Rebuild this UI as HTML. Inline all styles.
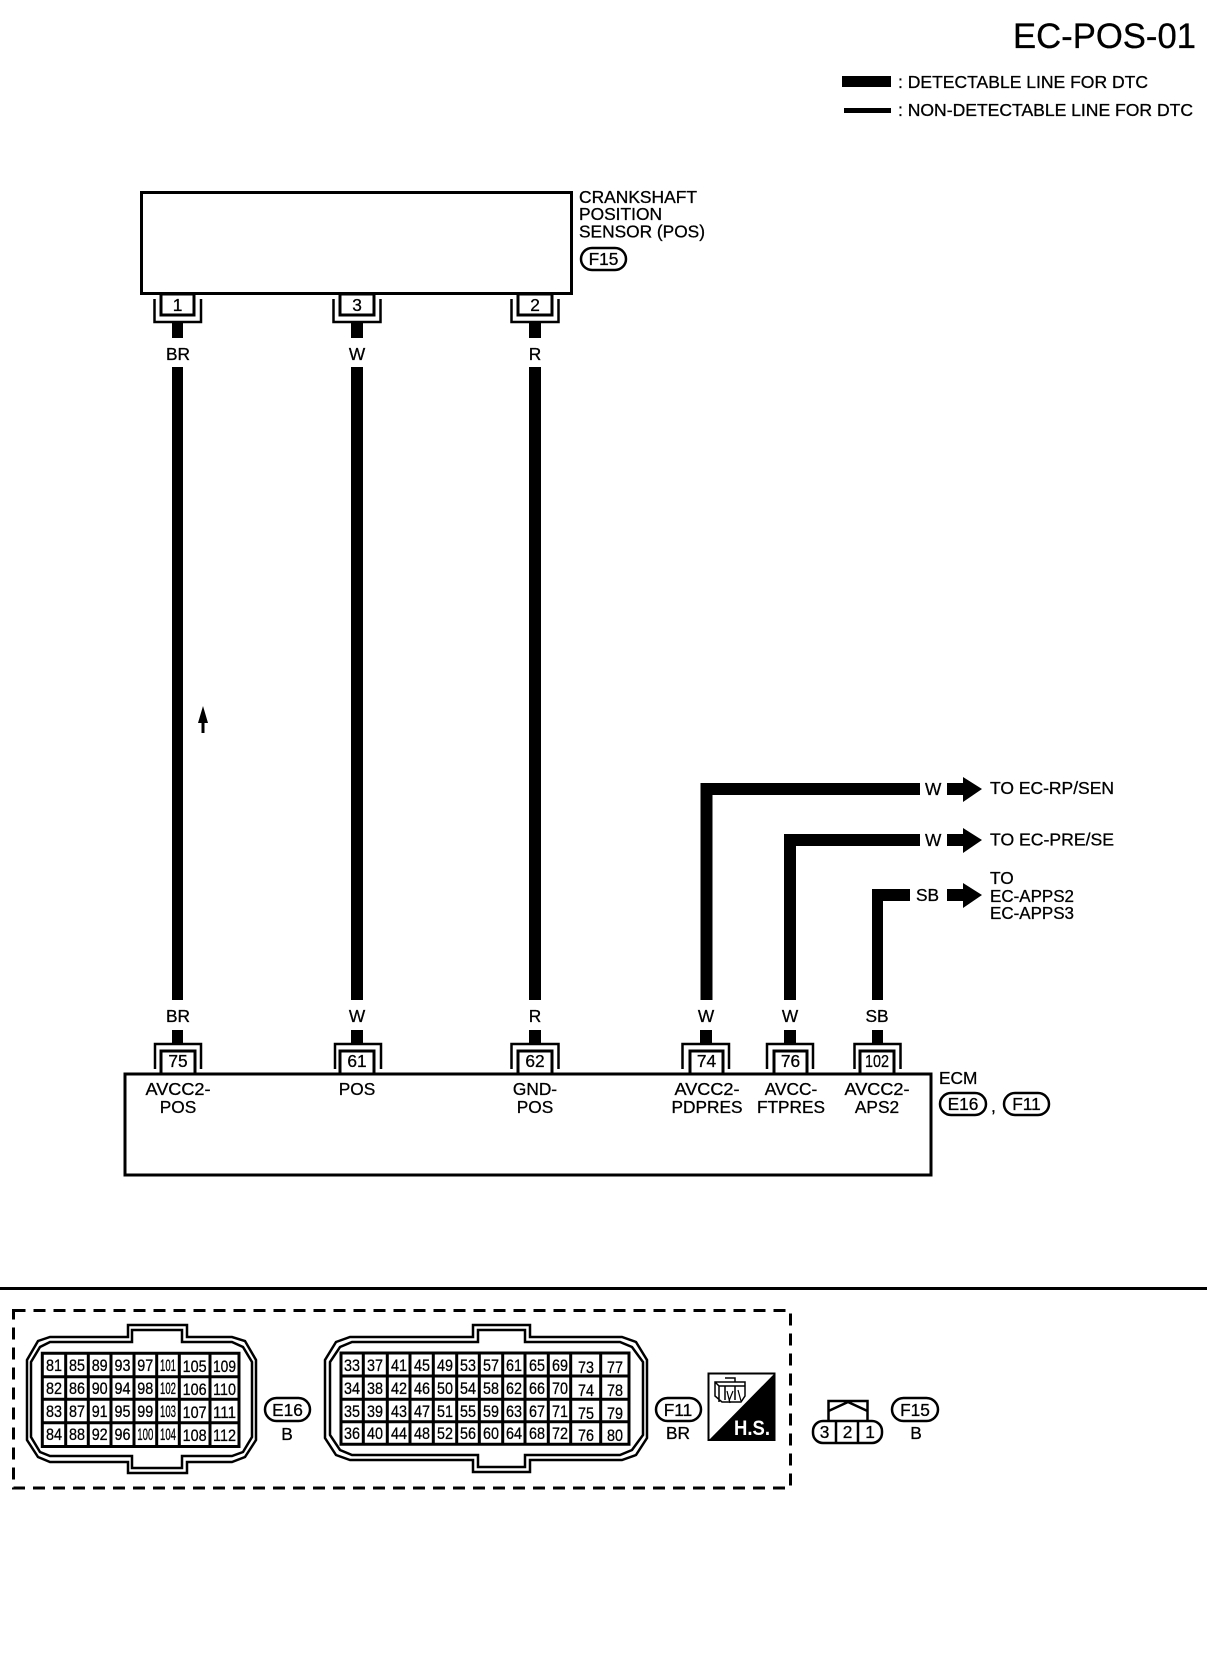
<!DOCTYPE html>
<html><head><meta charset="utf-8"><style>
html,body{margin:0;padding:0;background:#fff}
svg{display:block}
text{font-family:"Liberation Sans",sans-serif;fill:#000;font-size:17.3px;stroke:#000;stroke-width:.3px}
.m{text-anchor:middle}
.c{font-size:17px;text-anchor:middle}
.s{fill:none;stroke:#000;stroke-width:2.5}
.b{fill:#fff;stroke:#000;stroke-width:3}
</style></head><body>
<svg width="1216" height="1660" viewBox="0 0 1216 1660" xmlns="http://www.w3.org/2000/svg">
<rect width="1216" height="1660" fill="#fff"/>
<text x="1013" y="48" style="font-size:35px" textLength="183" lengthAdjust="spacingAndGlyphs">EC-POS-01</text>
<rect x="842" y="76" width="49" height="11"/>
<rect x="844" y="108" width="47" height="5"/>
<text x="898" y="88" textLength="250" lengthAdjust="spacingAndGlyphs">: DETECTABLE LINE FOR DTC</text>
<text x="898" y="116" textLength="295" lengthAdjust="spacingAndGlyphs">: NON-DETECTABLE LINE FOR DTC</text>

<!-- sensor -->
<rect class="b" x="141.500" y="192.500" width="430" height="101"/>
<text x="579" y="203" textLength="118" lengthAdjust="spacingAndGlyphs">CRANKSHAFT</text>
<text x="579" y="220" textLength="83" lengthAdjust="spacingAndGlyphs">POSITION</text>
<text x="579" y="237.500" textLength="126" lengthAdjust="spacingAndGlyphs">SENSOR (POS)</text>
<rect class="s" x="581" y="248" width="45" height="22" rx="11"/>
<text class="m" x="603.500" y="265">F15</text>

<g>
<rect x="172" y="322" width="11" height="16"/><rect x="172" y="367" width="11" height="633"/>
<rect x="351" y="322" width="12" height="16"/><rect x="351" y="367" width="12" height="633"/>
<rect x="529" y="322" width="12" height="16"/><rect x="529" y="367" width="12" height="633"/>
</g>
<path class="s" d="M154.500 299V322H201V299M333.500 299V322H380.500V299M511.500 299V322H558.500V299"/>
<rect class="b" x="161" y="294" width="33" height="21"/><rect class="b" x="340" y="294" width="34" height="21"/><rect class="b" x="518" y="294" width="34" height="21"/>
<text class="m" x="177.500" y="311">1</text><text class="m" x="357" y="311">3</text><text class="m" x="535" y="311">2</text>
<text class="m" x="178" y="360">BR</text><text class="m" x="357" y="360">W</text><text class="m" x="535" y="360">R</text>

<!-- small arrow -->
<path d="M203 706L208 723H204.500V733H201.500V723H198Z"/>

<!-- branch wires -->
<path d="M700.500 1000V783H920V795H712.500V1000ZM784 1000V834H920V846H796V1000ZM872 1000V889H910V901H883V1000Z"/>
<text x="925" y="795">W</text><text x="925" y="846">W</text><text x="916" y="901">SB</text>
<path d="M947 783H963V777L982 789L963 802V795H947Z"/>
<path d="M947 834H963V828L982 840L963 853V846H947Z"/>
<path d="M947 889H963V883L982 895L963 908V901H947Z"/>
<text x="990" y="794" textLength="124" lengthAdjust="spacingAndGlyphs">TO EC-RP/SEN</text>
<text x="990" y="845.500" textLength="124" lengthAdjust="spacingAndGlyphs">TO EC-PRE/SE</text>
<text x="990" y="884">TO</text><text x="990" y="902" textLength="84" lengthAdjust="spacingAndGlyphs">EC-APPS2</text><text x="990" y="919" textLength="84" lengthAdjust="spacingAndGlyphs">EC-APPS3</text>

<!-- ECM lower stubs -->
<rect x="172" y="1030" width="11" height="14"/><rect x="351" y="1030" width="12" height="14"/><rect x="529" y="1030" width="12" height="14"/>
<rect x="700" y="1030" width="12" height="14"/><rect x="784" y="1030" width="12" height="14"/><rect x="872" y="1030" width="11" height="14"/>
<text class="m" x="178" y="1022">BR</text><text class="m" x="357" y="1022">W</text><text class="m" x="535" y="1022">R</text>
<text class="m" x="706" y="1022">W</text><text class="m" x="790" y="1022">W</text><text class="m" x="877" y="1022">SB</text>
<path class="s" d="M155 1069V1044H201V1069M335 1069V1044H381V1069M511.500 1069V1044H558.500V1069M682.500 1069V1044H729V1069M767 1069V1044H813V1069M854.500 1069V1044H900.500V1069"/>
<rect class="b" x="125" y="1074" width="806" height="101"/>
<rect class="b" x="161" y="1051" width="34" height="23"/><rect class="b" x="340" y="1051" width="34" height="23"/><rect class="b" x="518" y="1051" width="34" height="23"/>
<rect class="b" x="690" y="1051" width="33" height="23"/><rect class="b" x="774" y="1051" width="33" height="23"/><rect class="b" x="860" y="1051" width="34" height="23"/>
<text class="m" x="178" y="1067">75</text><text class="m" x="357" y="1067">61</text><text class="m" x="535" y="1067">62</text>
<text class="m" x="706.500" y="1067">74</text><text class="m" x="790.500" y="1067">76</text><text class="m" x="877" y="1067" textLength="24" lengthAdjust="spacingAndGlyphs">102</text>
<text class="m" x="178" y="1095" textLength="65" lengthAdjust="spacingAndGlyphs">AVCC2-</text><text class="m" x="178" y="1113">POS</text>
<text class="m" x="357" y="1095">POS</text>
<text class="m" x="535" y="1095">GND-</text><text class="m" x="535" y="1113">POS</text>
<text class="m" x="707" y="1095" textLength="65" lengthAdjust="spacingAndGlyphs">AVCC2-</text><text class="m" x="707" y="1113" textLength="71" lengthAdjust="spacingAndGlyphs">PDPRES</text>
<text class="m" x="791" y="1095">AVCC-</text><text class="m" x="791" y="1113" textLength="68" lengthAdjust="spacingAndGlyphs">FTPRES</text>
<text class="m" x="877" y="1095" textLength="65" lengthAdjust="spacingAndGlyphs">AVCC2-</text><text class="m" x="877" y="1113">APS2</text>
<text x="939" y="1084">ECM</text>
<rect class="s" x="940" y="1093" width="46" height="22" rx="11"/><text class="m" x="963" y="1110">E16</text>
<text x="991" y="1112">,</text>
<rect class="s" x="1004" y="1093" width="45" height="22" rx="11"/><text class="m" x="1026.500" y="1110">F11</text>

<!-- rule and dashed frame -->
<rect x="0" y="1287" width="1207" height="3"/>
<rect x="13.500" y="1310.500" width="777" height="177.500" fill="none" stroke="#000" stroke-width="3" stroke-dasharray="12 8"/>

<!-- E16 connector -->
<path class="s" d="M128 1337V1325H187V1337H232L245 1341L256 1360V1440L245 1457L232 1462H187V1473H128V1462H50L38 1457L27 1440V1360L38 1341L50 1337Z"/>
<path class="s" d="M132 1342V1330H182V1342H232L243 1347L252 1362V1437L243 1452L232 1456H182V1468H132V1456H50L40 1452L31 1437V1362L40 1347L50 1342Z"/>
<path class="s" style="stroke-width:3" d="M42.300 1353.300H239V1446.500H42.300ZM65.700 1353.300V1446.500M88.300 1353.300V1446.500M111 1353.300V1446.500M134 1353.300V1446.500M156.700 1353.300V1446.500M179.300 1353.300V1446.500M210 1353.300V1446.500M42.300 1376.700H239M42.300 1399.300H239M42.300 1422.700H239"/>
<g>
<text class="c" x="54" y="1371" textLength="16" lengthAdjust="spacingAndGlyphs">81</text><text class="c" x="77" y="1371" textLength="16" lengthAdjust="spacingAndGlyphs">85</text><text class="c" x="99.700" y="1371" textLength="16" lengthAdjust="spacingAndGlyphs">89</text><text class="c" x="122.500" y="1371" textLength="16" lengthAdjust="spacingAndGlyphs">93</text><text class="c" x="145.300" y="1371" textLength="16" lengthAdjust="spacingAndGlyphs">97</text><text class="c" x="168" y="1371" textLength="16" lengthAdjust="spacingAndGlyphs">101</text><text class="c" x="194.600" y="1372" textLength="24" lengthAdjust="spacingAndGlyphs">105</text><text class="c" x="224.500" y="1372" textLength="23" lengthAdjust="spacingAndGlyphs">109</text>
<text class="c" x="54" y="1394" textLength="16" lengthAdjust="spacingAndGlyphs">82</text><text class="c" x="77" y="1394" textLength="16" lengthAdjust="spacingAndGlyphs">86</text><text class="c" x="99.700" y="1394" textLength="16" lengthAdjust="spacingAndGlyphs">90</text><text class="c" x="122.500" y="1394" textLength="16" lengthAdjust="spacingAndGlyphs">94</text><text class="c" x="145.300" y="1394" textLength="16" lengthAdjust="spacingAndGlyphs">98</text><text class="c" x="168" y="1394" textLength="16" lengthAdjust="spacingAndGlyphs">102</text><text class="c" x="194.600" y="1395" textLength="24" lengthAdjust="spacingAndGlyphs">106</text><text class="c" x="224.500" y="1395" textLength="23" lengthAdjust="spacingAndGlyphs">110</text>
<text class="c" x="54" y="1417" textLength="16" lengthAdjust="spacingAndGlyphs">83</text><text class="c" x="77" y="1417" textLength="16" lengthAdjust="spacingAndGlyphs">87</text><text class="c" x="99.700" y="1417" textLength="16" lengthAdjust="spacingAndGlyphs">91</text><text class="c" x="122.500" y="1417" textLength="16" lengthAdjust="spacingAndGlyphs">95</text><text class="c" x="145.300" y="1417" textLength="16" lengthAdjust="spacingAndGlyphs">99</text><text class="c" x="168" y="1417" textLength="16" lengthAdjust="spacingAndGlyphs">103</text><text class="c" x="194.600" y="1418" textLength="24" lengthAdjust="spacingAndGlyphs">107</text><text class="c" x="224.500" y="1418" textLength="23" lengthAdjust="spacingAndGlyphs">111</text>
<text class="c" x="54" y="1440" textLength="16" lengthAdjust="spacingAndGlyphs">84</text><text class="c" x="77" y="1440" textLength="16" lengthAdjust="spacingAndGlyphs">88</text><text class="c" x="99.700" y="1440" textLength="16" lengthAdjust="spacingAndGlyphs">92</text><text class="c" x="122.500" y="1440" textLength="16" lengthAdjust="spacingAndGlyphs">96</text><text class="c" x="145.300" y="1440" textLength="16" lengthAdjust="spacingAndGlyphs">100</text><text class="c" x="168" y="1440" textLength="16" lengthAdjust="spacingAndGlyphs">104</text><text class="c" x="194.600" y="1441" textLength="24" lengthAdjust="spacingAndGlyphs">108</text><text class="c" x="224.500" y="1441" textLength="23" lengthAdjust="spacingAndGlyphs">112</text>
</g>
<rect class="s" x="265" y="1398" width="45" height="23" rx="11.500"/><text class="m" x="287.500" y="1416">E16</text>
<text class="m" x="287" y="1440">B</text>

<!-- F11 connector -->
<path class="s" d="M473 1337V1325H530V1337H622L636 1342L647 1360V1438L636 1455L622 1460H530V1472H473V1460H350L336 1455L325 1438V1360L336 1342L350 1337Z"/>
<path class="s" d="M478 1342V1330H525V1342H620L632 1347L643 1362V1435L632 1450L620 1455H525V1467H478V1455H352L340 1450L330 1435V1362L340 1347L352 1342Z"/>
<path class="s" style="stroke-width:3" d="M341 1353H629V1444.300H341ZM363.300 1353V1444.300M387.300 1353V1444.300M410 1353V1444.300M433.300 1353V1444.300M456.700 1353V1444.300M479.300 1353V1444.300M502.700 1353V1444.300M525 1353V1444.300M548.300 1353V1444.300M570.700 1353V1444.300M600.700 1353V1444.300M341 1376H629M341 1399.300H629M341 1421.700H629"/>
<g>
<text class="c" x="352" y="1371" textLength="16" lengthAdjust="spacingAndGlyphs">33</text><text class="c" x="375" y="1371" textLength="16" lengthAdjust="spacingAndGlyphs">37</text><text class="c" x="399" y="1371" textLength="16" lengthAdjust="spacingAndGlyphs">41</text><text class="c" x="422" y="1371" textLength="16" lengthAdjust="spacingAndGlyphs">45</text><text class="c" x="445" y="1371" textLength="16" lengthAdjust="spacingAndGlyphs">49</text><text class="c" x="468" y="1371" textLength="16" lengthAdjust="spacingAndGlyphs">53</text><text class="c" x="491" y="1371" textLength="16" lengthAdjust="spacingAndGlyphs">57</text><text class="c" x="514" y="1371" textLength="16" lengthAdjust="spacingAndGlyphs">61</text><text class="c" x="537" y="1371" textLength="16" lengthAdjust="spacingAndGlyphs">65</text><text class="c" x="560" y="1371" textLength="16" lengthAdjust="spacingAndGlyphs">69</text><text class="c" x="586" y="1373" textLength="16" lengthAdjust="spacingAndGlyphs">73</text><text class="c" x="615" y="1373" textLength="16" lengthAdjust="spacingAndGlyphs">77</text>
<text class="c" x="352" y="1394" textLength="16" lengthAdjust="spacingAndGlyphs">34</text><text class="c" x="375" y="1394" textLength="16" lengthAdjust="spacingAndGlyphs">38</text><text class="c" x="399" y="1394" textLength="16" lengthAdjust="spacingAndGlyphs">42</text><text class="c" x="422" y="1394" textLength="16" lengthAdjust="spacingAndGlyphs">46</text><text class="c" x="445" y="1394" textLength="16" lengthAdjust="spacingAndGlyphs">50</text><text class="c" x="468" y="1394" textLength="16" lengthAdjust="spacingAndGlyphs">54</text><text class="c" x="491" y="1394" textLength="16" lengthAdjust="spacingAndGlyphs">58</text><text class="c" x="514" y="1394" textLength="16" lengthAdjust="spacingAndGlyphs">62</text><text class="c" x="537" y="1394" textLength="16" lengthAdjust="spacingAndGlyphs">66</text><text class="c" x="560" y="1394" textLength="16" lengthAdjust="spacingAndGlyphs">70</text><text class="c" x="586" y="1396" textLength="16" lengthAdjust="spacingAndGlyphs">74</text><text class="c" x="615" y="1396" textLength="16" lengthAdjust="spacingAndGlyphs">78</text>
<text class="c" x="352" y="1417" textLength="16" lengthAdjust="spacingAndGlyphs">35</text><text class="c" x="375" y="1417" textLength="16" lengthAdjust="spacingAndGlyphs">39</text><text class="c" x="399" y="1417" textLength="16" lengthAdjust="spacingAndGlyphs">43</text><text class="c" x="422" y="1417" textLength="16" lengthAdjust="spacingAndGlyphs">47</text><text class="c" x="445" y="1417" textLength="16" lengthAdjust="spacingAndGlyphs">51</text><text class="c" x="468" y="1417" textLength="16" lengthAdjust="spacingAndGlyphs">55</text><text class="c" x="491" y="1417" textLength="16" lengthAdjust="spacingAndGlyphs">59</text><text class="c" x="514" y="1417" textLength="16" lengthAdjust="spacingAndGlyphs">63</text><text class="c" x="537" y="1417" textLength="16" lengthAdjust="spacingAndGlyphs">67</text><text class="c" x="560" y="1417" textLength="16" lengthAdjust="spacingAndGlyphs">71</text><text class="c" x="586" y="1419" textLength="16" lengthAdjust="spacingAndGlyphs">75</text><text class="c" x="615" y="1419" textLength="16" lengthAdjust="spacingAndGlyphs">79</text>
<text class="c" x="352" y="1439" textLength="16" lengthAdjust="spacingAndGlyphs">36</text><text class="c" x="375" y="1439" textLength="16" lengthAdjust="spacingAndGlyphs">40</text><text class="c" x="399" y="1439" textLength="16" lengthAdjust="spacingAndGlyphs">44</text><text class="c" x="422" y="1439" textLength="16" lengthAdjust="spacingAndGlyphs">48</text><text class="c" x="445" y="1439" textLength="16" lengthAdjust="spacingAndGlyphs">52</text><text class="c" x="468" y="1439" textLength="16" lengthAdjust="spacingAndGlyphs">56</text><text class="c" x="491" y="1439" textLength="16" lengthAdjust="spacingAndGlyphs">60</text><text class="c" x="514" y="1439" textLength="16" lengthAdjust="spacingAndGlyphs">64</text><text class="c" x="537" y="1439" textLength="16" lengthAdjust="spacingAndGlyphs">68</text><text class="c" x="560" y="1439" textLength="16" lengthAdjust="spacingAndGlyphs">72</text><text class="c" x="586" y="1441" textLength="16" lengthAdjust="spacingAndGlyphs">76</text><text class="c" x="615" y="1441" textLength="16" lengthAdjust="spacingAndGlyphs">80</text>
</g>
<rect class="s" x="656" y="1398" width="45" height="23" rx="11.500"/><text class="m" x="678" y="1416">F11</text>
<text class="m" x="678" y="1439">BR</text>

<!-- H.S. -->
<rect x="708.500" y="1373.500" width="66" height="66.500" fill="#fff" stroke="#000" stroke-width="2"/>
<path d="M775 1373L708 1441H775Z"/>
<text x="734" y="1435" style="font-size:21px;font-weight:bold;fill:#fff;stroke:none" textLength="36" lengthAdjust="spacingAndGlyphs">H.S.</text>
<path fill="none" stroke="#000" stroke-width="1.500" d="M715 1382H745V1396L741 1402H722L715 1396ZM715 1382L719 1386H745M719 1386V1402M725 1386V1400M735 1386V1400M725 1378H735V1382"/>
<path fill="none" stroke="#000" stroke-width="1.200" d="M727 1391L730 1403M733 1391L729 1401M738 1390L741 1401"/>

<!-- F15 connector -->
<path class="s" d="M828.500 1420V1401H867.500V1420M828.500 1411L848 1402L867.500 1411"/>
<rect class="s" x="813" y="1421" width="69" height="22" rx="10"/>
<path class="s" d="M836 1421V1443M858 1421V1443"/>
<text class="m" x="824.500" y="1438">3</text><text class="m" x="847.500" y="1438">2</text><text class="m" x="870" y="1438">1</text>
<rect class="s" x="892" y="1398" width="46" height="23" rx="11.500"/><text class="m" x="915" y="1416">F15</text>
<text class="m" x="916" y="1439">B</text>
</svg>
</body></html>
